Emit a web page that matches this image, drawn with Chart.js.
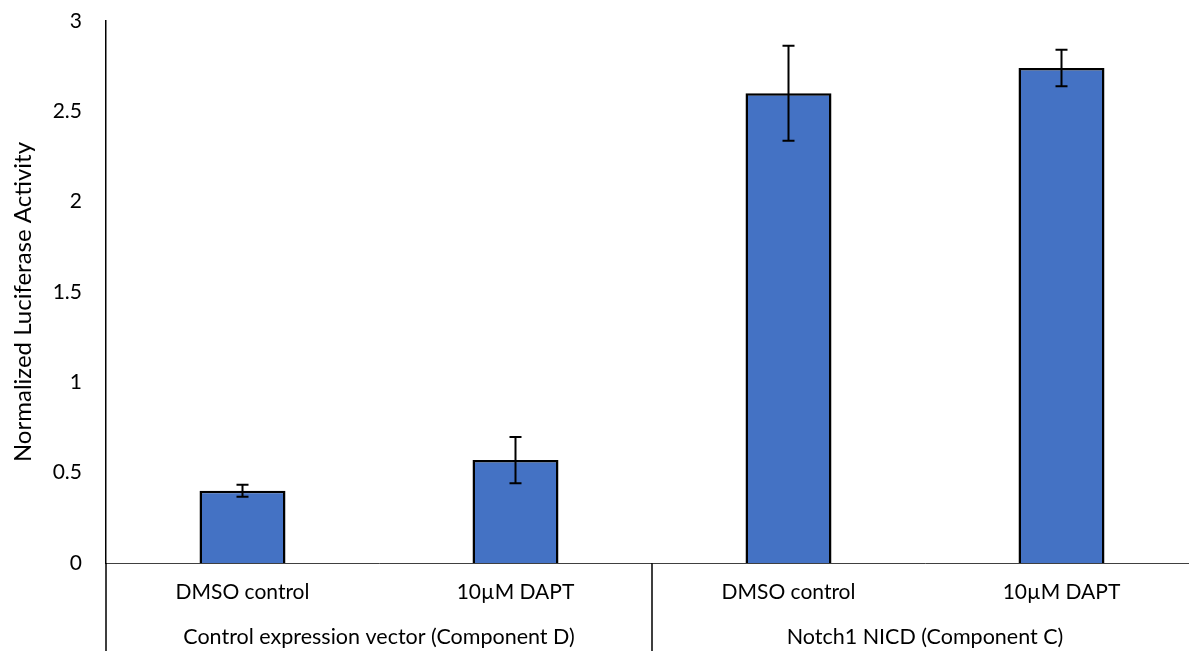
<!DOCTYPE html>
<html>
<head>
<meta charset="utf-8">
<script src="https://cdn.jsdelivr.net/npm/chart.js@4/dist/chart.umd.min.js"></script>
<style>
  html, body { margin: 0; padding: 0; background: #fff; overflow: hidden; }
  #wrap { width: 1198px; height: 651px; }
</style>
</head>
<body>
<div id="wrap"><canvas id="barChart" width="1198" height="651"></canvas></div>
<script>
const groups = ['Control expression vector (Component D)', 'Notch1 NICD (Component C)'];
const treatments = ['DMSO control', '10µM DAPT', 'DMSO control', '10µM DAPT'];
const groupOf = [0, 0, 1, 1];
const means = [0.40, 0.57, 2.60, 2.74];
const errors = [0.033, 0.128, 0.263, 0.101];
const yMin = 0, yMax = 3, yStep = 0.5;
const yTitle = 'Normalized Luciferase Activity';

const FONT = "Lato, 'Open Sans', sans-serif";
const TEXT = '#000000';

// error bars, drawn from the bar elements + y scale
const errorBars = {
  id: 'errorBars',
  afterDatasetsDraw(chart) {
    const ctx = chart.ctx;
    const y = chart.scales.y;
    const meta = chart.getDatasetMeta(0);
    ctx.save();
    ctx.strokeStyle = '#000';
    ctx.lineWidth = 2;
    meta.data.forEach((bar, i) => {
      const top = y.getPixelForValue(means[i] + errors[i]);
      const bot = y.getPixelForValue(means[i] - errors[i]);
      ctx.beginPath();
      ctx.moveTo(bar.x, top); ctx.lineTo(bar.x, bot);
      ctx.moveTo(bar.x - 6, top); ctx.lineTo(bar.x + 6, top);
      ctx.moveTo(bar.x - 6, bot); ctx.lineTo(bar.x + 6, bot);
      ctx.stroke();
    });
    ctx.restore();
  }
};

// two level category labels + separators + y title
const groupAxis = {
  id: 'groupAxis',
  afterDraw(chart) {
    const ctx = chart.ctx;
    const x = chart.scales.x;
    const area = chart.chartArea;
    const bottom = chart.height;
    ctx.save();
    ctx.fillStyle = TEXT;
    ctx.font = '21px ' + FONT;
    ctx.textAlign = 'center';
    ctx.textBaseline = 'middle';
    treatments.forEach((t, i) => {
      ctx.fillText(t, x.getPixelForValue(i), area.bottom + 29);
    });
    const step = x.getPixelForValue(1) - x.getPixelForValue(0);
    ctx.font = '21.5px ' + FONT;
    groups.forEach((g, gi) => {
      const idx = groupOf.map((v, i) => v === gi ? i : -1).filter(i => i >= 0);
      const cx = (x.getPixelForValue(idx[0]) + x.getPixelForValue(idx[idx.length - 1])) / 2;
      ctx.fillText(g, cx, area.bottom + 74);
    });
    // separators
    ctx.strokeStyle = '#000';
    ctx.lineWidth = 1.5;
    ctx.beginPath();
    ctx.moveTo(area.left, area.bottom);
    ctx.lineTo(area.left, bottom);
    for (let i = 1; i < groupOf.length; i++) {
      if (groupOf[i] !== groupOf[i - 1]) {
        const sx = x.getPixelForValue(i) - step / 2;
        ctx.moveTo(sx, area.bottom);
        ctx.lineTo(sx, bottom);
      }
    }
    ctx.stroke();
    // y title
    ctx.translate(23, (area.top + area.bottom) / 2 + 10);
    ctx.rotate(-Math.PI / 2);
    ctx.font = '24px ' + FONT;
    ctx.fillText(yTitle, 0, 0);
    ctx.restore();
  }
};

new Chart(document.getElementById('barChart').getContext('2d'), {
  type: 'bar',
  data: {
    labels: treatments,
    datasets: [{
      data: means,
      backgroundColor: '#4472C4',
      borderColor: '#000000',
      borderWidth: 2.5,
      barPercentage: 0.315,
      categoryPercentage: 1.0
    }]
  },
  options: {
    responsive: false,
    animation: false,
    layout: { padding: { top: 21, right: 0, left: 0, bottom: 0 } },
    plugins: {
      legend: { display: false },
      tooltip: { enabled: false }
    },
    scales: {
      x: {
        grid: { display: false, drawTicks: false },
        border: { display: true, color: '#404040', width: 1 },
        ticks: { display: false },
        afterFit(axis) { axis.height = 88; }
      },
      y: {
        min: yMin,
        max: yMax,
        ticks: {
          stepSize: yStep,
          padding: 24,
          color: TEXT,
          font: { family: FONT, size: 21 },
          callback: (v) => String(Number(v))
        },
        grid: { display: false, drawTicks: false },
        border: { display: true, color: '#000000', width: 1.5 },
        afterFit(axis) {
          axis.width = 106;
          axis.paddingTop = 0;
          axis.paddingBottom = 0;
        }
      }
    }
  },
  plugins: [errorBars, groupAxis]
});
</script>
</body>
</html>
